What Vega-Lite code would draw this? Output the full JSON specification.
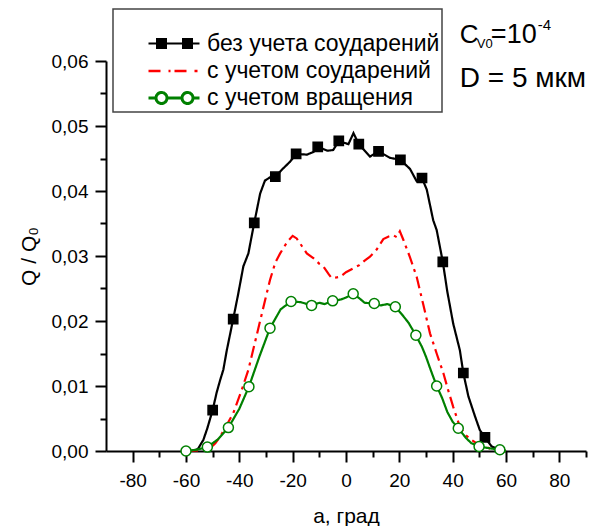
{
  "$schema": "https://vega.github.io/schema/vega-lite/v6.json",
  "width": 480,
  "height": 390,
  "autosize": {"type": "none"},
  "padding": {"left": 106, "top": 61, "right": 14, "bottom": 75},
  "background": "white",
  "config": {
    "view": {"stroke": null},
    "font": "Liberation Sans",
    "axis": {
      "grid": false,
      "domainColor": "black",
      "domainWidth": 2,
      "tickColor": "black",
      "tickWidth": 2,
      "labelFont": "Liberation Sans",
      "labelFontSize": 19,
      "labelColor": "black",
      "titleFont": "Liberation Sans",
      "titleFontSize": 21,
      "titleFontWeight": "normal",
      "titleColor": "black",
      "labelOverlap": false,
      "labelFlush": false
    }
  },
  "resolve": {"axis": {"x": "independent", "y": "independent"}},
  "datasets": {
    "curves": [
      {"s": "без учета соударений", "a": -60, "q": 0, "m": false},
      {"s": "без учета соударений", "a": -58, "q": 0, "m": false},
      {"s": "без учета соударений", "a": -56, "q": 0.0002, "m": false},
      {"s": "без учета соударений", "a": -55.4, "q": 0.0004, "m": false},
      {"s": "без учета соударений", "a": -53.5, "q": 0.0017, "m": false},
      {"s": "без учета соударений", "a": -52, "q": 0.0035, "m": false},
      {"s": "без учета соударений", "a": -50, "q": 0.0063, "m": true},
      {"s": "без учета соударений", "a": -48.5, "q": 0.009, "m": false},
      {"s": "без учета соударений", "a": -47.2, "q": 0.0109, "m": false},
      {"s": "без учета соударений", "a": -46, "q": 0.0125, "m": false},
      {"s": "без учета соударений", "a": -44.7, "q": 0.0155, "m": false},
      {"s": "без учета соударений", "a": -42.3, "q": 0.0203, "m": true},
      {"s": "без учета соударений", "a": -40.5, "q": 0.024, "m": false},
      {"s": "без учета соударений", "a": -38.5, "q": 0.0284, "m": false},
      {"s": "без учета соударений", "a": -36.6, "q": 0.0304, "m": false},
      {"s": "без учета соударений", "a": -35.4, "q": 0.033, "m": false},
      {"s": "без учета соударений", "a": -34.4, "q": 0.0351, "m": true},
      {"s": "без учета соударений", "a": -32.2, "q": 0.0396, "m": false},
      {"s": "без учета соударений", "a": -30.4, "q": 0.0416, "m": false},
      {"s": "без учета соударений", "a": -28.5, "q": 0.0421, "m": false},
      {"s": "без учета соударений", "a": -26.5, "q": 0.0422, "m": true},
      {"s": "без учета соударений", "a": -23.5, "q": 0.0435, "m": false},
      {"s": "без учета соударений", "a": -21, "q": 0.0445, "m": false},
      {"s": "без учета соударений", "a": -18.7, "q": 0.0457, "m": true},
      {"s": "без учета соударений", "a": -14.6, "q": 0.0456, "m": false},
      {"s": "без учета соударений", "a": -12.2, "q": 0.046, "m": false},
      {"s": "без учета соударений", "a": -10.6, "q": 0.0468, "m": true},
      {"s": "без учета соударений", "a": -7, "q": 0.0462, "m": false},
      {"s": "без учета соударений", "a": -4.8, "q": 0.0463, "m": false},
      {"s": "без учета соударений", "a": -2.7, "q": 0.0477, "m": true},
      {"s": "без учета соударений", "a": 0.9, "q": 0.0472, "m": false},
      {"s": "без учета соударений", "a": 2.8, "q": 0.0489, "m": false},
      {"s": "без учета соударений", "a": 4.8, "q": 0.0472, "m": true},
      {"s": "без учета соударений", "a": 9, "q": 0.0453, "m": false},
      {"s": "без учета соударений", "a": 12.2, "q": 0.0461, "m": true},
      {"s": "без учета соударений", "a": 16.5, "q": 0.0451, "m": false},
      {"s": "без учета соударений", "a": 20.4, "q": 0.0448, "m": true},
      {"s": "без учета соударений", "a": 24, "q": 0.0434, "m": false},
      {"s": "без учета соударений", "a": 26.5, "q": 0.0415, "m": false},
      {"s": "без учета соударений", "a": 28.5, "q": 0.042, "m": true},
      {"s": "без учета соударений", "a": 30.3, "q": 0.0402, "m": false},
      {"s": "без учета соударений", "a": 32.7, "q": 0.0355, "m": false},
      {"s": "без учета соударений", "a": 34, "q": 0.034, "m": false},
      {"s": "без учета соударений", "a": 36.3, "q": 0.0291, "m": true},
      {"s": "без учета соударений", "a": 38, "q": 0.0245, "m": false},
      {"s": "без учета соударений", "a": 40.2, "q": 0.0196, "m": false},
      {"s": "без учета соударений", "a": 42.7, "q": 0.0155, "m": false},
      {"s": "без учета соударений", "a": 44, "q": 0.012, "m": true},
      {"s": "без учета соударений", "a": 45.9, "q": 0.0084, "m": false},
      {"s": "без учета соударений", "a": 48.4, "q": 0.0053, "m": false},
      {"s": "без учета соударений", "a": 50.2, "q": 0.0032, "m": false},
      {"s": "без учета соударений", "a": 52.1, "q": 0.0021, "m": true},
      {"s": "без учета соударений", "a": 54.6, "q": 0.0007, "m": false},
      {"s": "без учета соударений", "a": 57, "q": 0.0003, "m": false},
      {"s": "без учета соударений", "a": 60, "q": 0, "m": false},

      {"s": "с учетом соударений", "a": -60, "q": 0, "m": false},
      {"s": "с учетом соударений", "a": -55, "q": 0.0001, "m": false},
      {"s": "с учетом соударений", "a": -51, "q": 0.0004, "m": false},
      {"s": "с учетом соударений", "a": -49, "q": 0.0012, "m": false},
      {"s": "с учетом соударений", "a": -47.2, "q": 0.0022, "m": false},
      {"s": "с учетом соударений", "a": -45, "q": 0.0038, "m": false},
      {"s": "с учетом соударений", "a": -42.3, "q": 0.0058, "m": false},
      {"s": "с учетом соударений", "a": -39.1, "q": 0.0094, "m": false},
      {"s": "с учетом соударений", "a": -36.6, "q": 0.0125, "m": false},
      {"s": "с учетом соударений", "a": -33.5, "q": 0.0178, "m": false},
      {"s": "с учетом соударений", "a": -29.7, "q": 0.0243, "m": false},
      {"s": "с учетом соударений", "a": -28.5, "q": 0.0263, "m": false},
      {"s": "с учетом соударений", "a": -26.5, "q": 0.029, "m": false},
      {"s": "с учетом соударений", "a": -24.7, "q": 0.0304, "m": false},
      {"s": "с учетом соударений", "a": -22, "q": 0.0322, "m": false},
      {"s": "с учетом соударений", "a": -20, "q": 0.0331, "m": false},
      {"s": "с учетом соударений", "a": -18.5, "q": 0.0327, "m": false},
      {"s": "с учетом соударений", "a": -16.5, "q": 0.0315, "m": false},
      {"s": "с учетом соударений", "a": -14.7, "q": 0.0304, "m": false},
      {"s": "с учетом соударений", "a": -12, "q": 0.0296, "m": false},
      {"s": "с учетом соударений", "a": -10, "q": 0.0288, "m": false},
      {"s": "с учетом соударений", "a": -8.5, "q": 0.0284, "m": false},
      {"s": "с учетом соударений", "a": -6.5, "q": 0.0272, "m": false},
      {"s": "с учетом соударений", "a": -5.4, "q": 0.0266, "m": false},
      {"s": "с учетом соударений", "a": -3.5, "q": 0.0267, "m": false},
      {"s": "с учетом соударений", "a": -2.2, "q": 0.0268, "m": false},
      {"s": "с учетом соударений", "a": 0, "q": 0.0275, "m": false},
      {"s": "с учетом соударений", "a": 2.7, "q": 0.0281, "m": false},
      {"s": "с учетом соударений", "a": 5, "q": 0.0286, "m": false},
      {"s": "с учетом соударений", "a": 7, "q": 0.0293, "m": false},
      {"s": "с учетом соударений", "a": 9, "q": 0.0299, "m": false},
      {"s": "с учетом соударений", "a": 11.5, "q": 0.031, "m": false},
      {"s": "с учетом соударений", "a": 14, "q": 0.0326, "m": false},
      {"s": "с учетом соударений", "a": 16, "q": 0.033, "m": false},
      {"s": "с учетом соударений", "a": 17.7, "q": 0.0332, "m": false},
      {"s": "с учетом соударений", "a": 19, "q": 0.0329, "m": false},
      {"s": "с учетом соударений", "a": 20.2, "q": 0.0338, "m": false},
      {"s": "с учетом соударений", "a": 21.5, "q": 0.0325, "m": false},
      {"s": "с учетом соударений", "a": 24, "q": 0.0298, "m": false},
      {"s": "с учетом соударений", "a": 26.5, "q": 0.0268, "m": false},
      {"s": "с учетом соударений", "a": 29, "q": 0.0225, "m": false},
      {"s": "с учетом соударений", "a": 31.5, "q": 0.0181, "m": false},
      {"s": "с учетом соударений", "a": 34, "q": 0.015, "m": false},
      {"s": "с учетом соударений", "a": 36.5, "q": 0.012, "m": false},
      {"s": "с учетом соударений", "a": 38, "q": 0.0098, "m": false},
      {"s": "с учетом соударений", "a": 40.2, "q": 0.0068, "m": false},
      {"s": "с учетом соударений", "a": 42.7, "q": 0.0037, "m": false},
      {"s": "с учетом соударений", "a": 45, "q": 0.0024, "m": false},
      {"s": "с учетом соударений", "a": 47.1, "q": 0.0017, "m": false},
      {"s": "с учетом соударений", "a": 50, "q": 0.0009, "m": false},
      {"s": "с учетом соударений", "a": 54, "q": 0.0004, "m": false},
      {"s": "с учетом соударений", "a": 60, "q": 0, "m": false},

      {"s": "с учетом вращения", "a": -60, "q": 0, "m": true},
      {"s": "с учетом вращения", "a": -56, "q": 0.0002, "m": false},
      {"s": "с учетом вращения", "a": -52, "q": 0.0006, "m": true},
      {"s": "с учетом вращения", "a": -48, "q": 0.0018, "m": false},
      {"s": "с учетом вращения", "a": -44.1, "q": 0.0036, "m": true},
      {"s": "с учетом вращения", "a": -40, "q": 0.0065, "m": false},
      {"s": "с учетом вращения", "a": -36.4, "q": 0.0099, "m": true},
      {"s": "с учетом вращения", "a": -32.5, "q": 0.0145, "m": false},
      {"s": "с учетом вращения", "a": -28.5, "q": 0.0189, "m": true},
      {"s": "с учетом вращения", "a": -24.5, "q": 0.0218, "m": false},
      {"s": "с учетом вращения", "a": -20.6, "q": 0.023, "m": true},
      {"s": "с учетом вращения", "a": -17, "q": 0.0229, "m": false},
      {"s": "с учетом вращения", "a": -14.5, "q": 0.0226, "m": false},
      {"s": "с учетом вращения", "a": -12.9, "q": 0.0224, "m": true},
      {"s": "с учетом вращения", "a": -10, "q": 0.0228, "m": false},
      {"s": "с учетом вращения", "a": -8, "q": 0.0226, "m": false},
      {"s": "с учетом вращения", "a": -5, "q": 0.0231, "m": true},
      {"s": "с учетом вращения", "a": -2, "q": 0.0233, "m": false},
      {"s": "с учетом вращения", "a": 0, "q": 0.0236, "m": false},
      {"s": "с учетом вращения", "a": 2.7, "q": 0.0242, "m": true},
      {"s": "с учетом вращения", "a": 5, "q": 0.0235, "m": false},
      {"s": "с учетом вращения", "a": 7, "q": 0.0228, "m": false},
      {"s": "с учетом вращения", "a": 10.6, "q": 0.0227, "m": true},
      {"s": "с учетом вращения", "a": 13, "q": 0.0224, "m": false},
      {"s": "с учетом вращения", "a": 15.5, "q": 0.0226, "m": false},
      {"s": "с учетом вращения", "a": 18.5, "q": 0.0222, "m": true},
      {"s": "с учетом вращения", "a": 21, "q": 0.021, "m": false},
      {"s": "с учетом вращения", "a": 23.5, "q": 0.0197, "m": false},
      {"s": "с учетом вращения", "a": 26.2, "q": 0.0178, "m": true},
      {"s": "с учетом вращения", "a": 28.5, "q": 0.016, "m": false},
      {"s": "с учетом вращения", "a": 30, "q": 0.0145, "m": false},
      {"s": "с учетом вращения", "a": 32, "q": 0.0122, "m": false},
      {"s": "с учетом вращения", "a": 34, "q": 0.01, "m": true},
      {"s": "с учетом вращения", "a": 36, "q": 0.0082, "m": false},
      {"s": "с учетом вращения", "a": 38, "q": 0.006, "m": false},
      {"s": "с учетом вращения", "a": 40, "q": 0.0045, "m": false},
      {"s": "с учетом вращения", "a": 42.1, "q": 0.0035, "m": true},
      {"s": "с учетом вращения", "a": 45, "q": 0.002, "m": false},
      {"s": "с учетом вращения", "a": 47, "q": 0.0012, "m": false},
      {"s": "с учетом вращения", "a": 49.9, "q": 0.0007, "m": true},
      {"s": "с учетом вращения", "a": 54, "q": 0.0004, "m": false},
      {"s": "с учетом вращения", "a": 57.7, "q": 0.0002, "m": true},
      {"s": "с учетом вращения", "a": 60, "q": 0, "m": false}
    ],
    "note": [{"n": 1}]
  },
  "layer": [
    {
      "data": {"name": "curves"},
      "mark": {"type": "line", "strokeWidth": 2.2},
      "encoding": {
        "x": {
          "field": "a", "type": "quantitative",
          "scale": {"domain": [-90, 90], "nice": false, "zero": false},
          "axis": {
            "orient": "bottom",
            "title": "а, град",
            "values": [-80, -60, -40, -20, 0, 20, 40, 60, 80],
            "labelExpr": "'' + datum.value",
            "tickSize": 11,
            "labelPadding": 9,
            "titlePadding": 15
          }
        },
        "y": {
          "field": "q", "type": "quantitative",
          "scale": {"domain": [0, 0.06], "nice": false},
          "axis": {
            "orient": "left",
            "title": "Q / Q₀",
            "values": [0, 0.01, 0.02, 0.03, 0.04, 0.05, 0.06],
            "labelExpr": "replace(format(datum.value, '.2f'), '.', ',')",
            "tickSize": 11,
            "labelPadding": 7,
            "titlePadding": 12
          }
        },
        "color": {
          "field": "s", "type": "nominal",
          "scale": {
            "domain": ["без учета соударений", "с учетом соударений", "с учетом вращения"],
            "range": ["#000000", "#ff0000", "#008000"]
          },
          "legend": {
            "orient": "none",
            "legendX": 7,
            "legendY": -52,
            "title": "\u2003\u2003\u2003\u2003\u2003\u2003\u2003\u2003\u2003\u2003\u2003\u2003\u2003\u2003\u2003\u2003\u2003\u2003\u2003\u2003\u2003\u2003\u2003\u2003\u2003\u2003\u2003\u2003",
            "titleFontSize": 12,
            "titleLimit": 500,
            "titlePadding": 6,
            "padding": 2,
            "fillColor": "white",
            "strokeColor": "#444444",
            "symbolSize": 729,
            "symbolStrokeWidth": 2,
            "labelFont": "Liberation Sans",
            "labelFontSize": 23,
            "labelColor": "black",
            "labelLimit": 400,
            "labelOffset": 30,
            "rowPadding": 0,
            "symbolOffset": 32,
            "encode": {
              "symbols": {
                "update": {
                  "shape": {"signal": "datum.value === 'без учета соударений' ? 'M-1,0H2.778M-0.37,-0.333H0.296V0.333H-0.37ZM1.556,-0.333H2.222V0.333H1.556Z' : datum.value === 'с учетом соударений' ? 'M-1,0H-0.037M0.481,0H0.63M0.926,0H1.963M2.407,0H2.63' : 'M-1,0H-0.444M0.37,0H1.482M2.296,0H2.778M0.37,0A0.407,0.407 0 1,1 -0.444,0A0.407,0.407 0 1,1 0.37,0ZM2.296,0A0.407,0.407 0 1,1 1.482,0A0.407,0.407 0 1,1 2.296,0Z'"},
                  "fill": {"signal": "datum.value === 'без учета соударений' ? 'black' : datum.value === 'с учетом соударений' ? 'transparent' : 'white'"},
                  "stroke": {"signal": "datum.value === 'без учета соударений' ? 'black' : datum.value === 'с учетом соударений' ? '#ff0000' : '#008000'"},
                  "strokeWidth": {"signal": "datum.value === 'с учетом соударений' ? 3 : 2"},
                  "strokeDash": {"value": []},
                  "opacity": {"value": 1}
                }
              },
              "legend": {"update": {"strokeWidth": {"value": 1.5}}}
            }
          }
        },
        "strokeDash": {
          "field": "s", "type": "nominal",
          "scale": {
            "domain": ["без учета соударений", "с учетом соударений", "с учетом вращения"],
            "range": [[1, 0], [12, 5, 3, 5], [1, 0]]
          },
          "legend": null
        },
        "strokeWidth": {
          "field": "s", "type": "nominal",
          "scale": {
            "domain": ["без учета соударений", "с учетом соударений", "с учетом вращения"],
            "range": [2, 3, 2.4]
          },
          "legend": null
        }
      }
    },
    {
      "data": {"name": "curves"},
      "transform": [{"filter": "datum.m"}],
      "mark": {"type": "point", "filled": true, "opacity": 1, "strokeWidth": 1.5},
      "encoding": {
        "x": {
          "field": "a", "type": "quantitative",
          "axis": {"orient": "bottom", "title": null, "values": [-70, -50, -30, -10, 10, 30, 50, 70, 90], "labels": false, "domain": false, "tickSize": 6}
        },
        "y": {
          "field": "q", "type": "quantitative",
          "axis": {"orient": "left", "title": null, "values": [0.005, 0.015, 0.025, 0.035, 0.045, 0.055], "labels": false, "domain": false, "tickSize": 6}
        },
        "shape": {"condition": {"test": "datum.s === 'с учетом вращения'", "value": "circle"}, "value": "square"},
        "size": {"condition": {"test": "datum.s === 'с учетом вращения'", "value": 100}, "value": 85},
        "fill": {"condition": {"test": "datum.s === 'с учетом вращения'", "value": "white"}, "value": "black"},
        "stroke": {"condition": {"test": "datum.s === 'с учетом вращения'", "value": "#008000"}, "value": "black"}
      }
    },
    {
      "data": {"name": "note"},
      "mark": {"type": "text", "text": "C", "align": "left", "baseline": "alphabetic", "fontSize": 26, "font": "Liberation Sans", "color": "black"},
      "encoding": {"x": {"datum": 42.7, "axis": null}, "y": {"datum": 0.06282, "axis": null}}
    },
    {
      "data": {"name": "note"},
      "mark": {"type": "text", "text": "V0", "align": "left", "baseline": "alphabetic", "fontSize": 13, "font": "Liberation Sans", "color": "black", "dx": 17, "dy": 5.5},
      "encoding": {"x": {"datum": 42.7, "axis": null}, "y": {"datum": 0.06282, "axis": null}}
    },
    {
      "data": {"name": "note"},
      "mark": {"type": "text", "text": "=10", "align": "left", "baseline": "alphabetic", "fontSize": 27, "font": "Liberation Sans", "color": "black", "dx": 31},
      "encoding": {"x": {"datum": 42.7, "axis": null}, "y": {"datum": 0.06282, "axis": null}}
    },
    {
      "data": {"name": "note"},
      "mark": {"type": "text", "text": "-4", "align": "left", "baseline": "alphabetic", "fontSize": 15, "font": "Liberation Sans", "color": "black", "dx": 78, "dy": -12.5},
      "encoding": {"x": {"datum": 42.7, "axis": null}, "y": {"datum": 0.06282, "axis": null}}
    },
    {
      "data": {"name": "note"},
      "mark": {"type": "text", "text": "D = 5 мкм", "align": "left", "baseline": "alphabetic", "fontSize": 28, "font": "Liberation Sans", "color": "black"},
      "encoding": {"x": {"datum": 42.7, "axis": null}, "y": {"datum": 0.05595, "axis": null}}
    }
  ]
}
